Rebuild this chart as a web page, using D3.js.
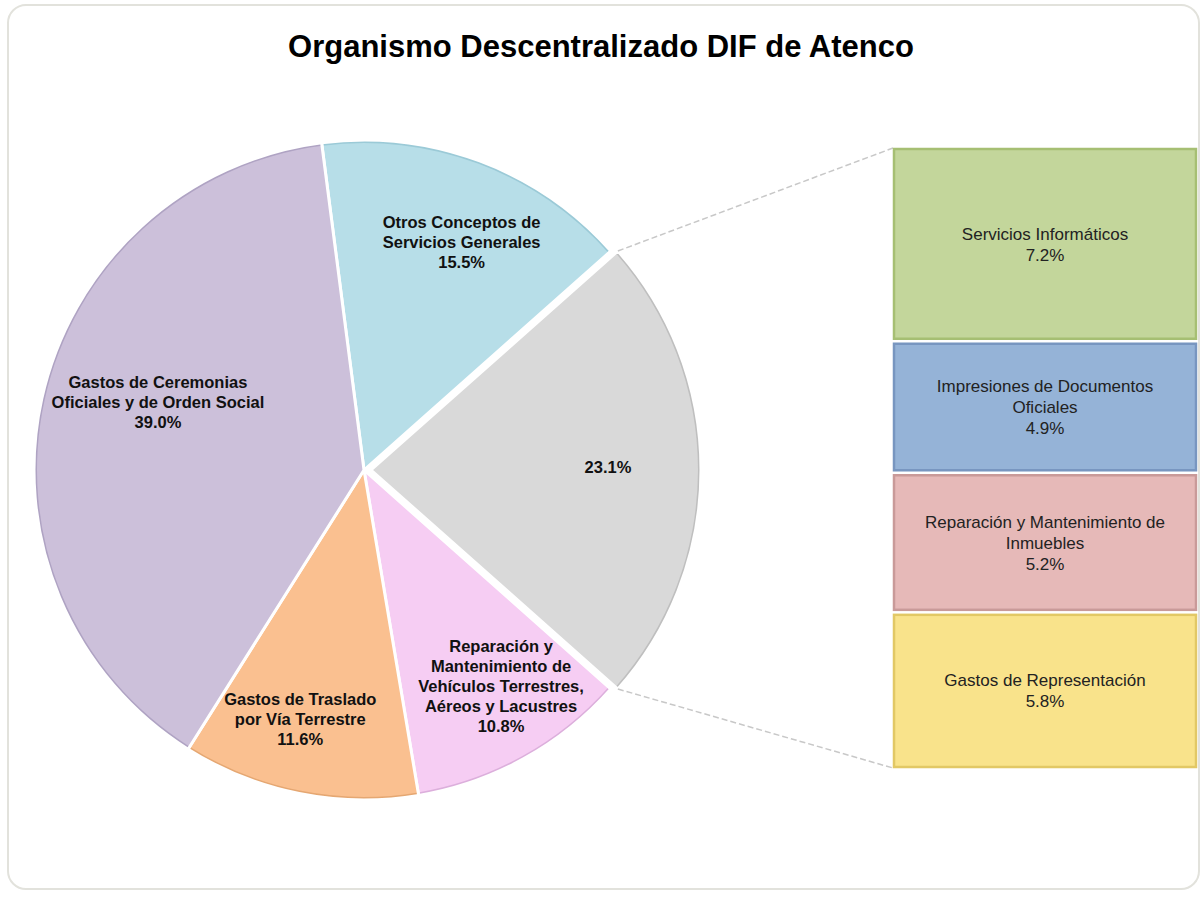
<!DOCTYPE html>
<html><head><meta charset="utf-8">
<script src="https://cdn.jsdelivr.net/npm/d3@7"></script>
<style>
body{margin:0;background:#fff;}
svg{display:block;}
</style></head>
<body>
<svg id="chart" width="1203" height="901"></svg>
<script>
const title = "Organismo Descentralizado DIF de Atenco";
const pieLabels = ["Otros Conceptos de\nServicios Generales", "", "Reparación y\nMantenimiento de\nVehículos Terrestres,\nAéreos y Lacustres", "Gastos de Traslado\npor Vía Terrestre", "Gastos de Ceremonias\nOficiales y de Orden Social"];
const pieValues = [15.5, 23.1, 10.8, 11.6, 39.0];
const pieColors = ["#b7dee8", "#d9d9d9", "#f6cdf3", "#fac090", "#ccc0da"];
const pieEdges = ["#93c4d2", "#b8b8b8", "#d6a8d6", "#e0a06a", "#a89bbd"];
const barLabels = ["Servicios Informáticos", "Impresiones de Documentos\nOficiales", "Reparación y Mantenimiento de\nInmuebles", "Gastos de Representación"];
const barValues = [7.2, 4.9, 5.2, 5.8];
const barColors = ["#c3d69b", "#95b3d7", "#e6b9b8", "#f9e38b"];
const barEdges = ["#a6bf73", "#7896c0", "#c99a99", "#e2c865"];

const svg = d3.select("#chart");
svg.append("rect").attr("x", 8).attr("y", 5).attr("width", 1191).attr("height", 884)
  .attr("rx", 18).attr("fill", "#fff").attr("stroke", "#e2e2dc").attr("stroke-width", 2);

svg.append("text").attr("x", 601).attr("y", 57).attr("text-anchor", "middle")
  .attr("font-family", "Liberation Sans, Arial, sans-serif").attr("font-weight", "bold")
  .attr("font-size", 31).attr("fill", "#000").text(title);

const cx = 364, cy = 470, R = 330;
const total = d3.sum(pieValues);
const start = Math.PI / 2 - (pieValues[0] + pieValues[1] / 2) / total * 2 * Math.PI;
const pie = d3.pie().sort(null).value(d => d).startAngle(start).endAngle(start + 2 * Math.PI);
const arcs = pie(pieValues);
const arc = d3.arc().innerRadius(0).outerRadius(R);
const rimArc = d3.arc().innerRadius(R - 3).outerRadius(R);

const g = svg.append("g").attr("transform", `translate(${cx},${cy})`);
const explode = [0, 7, 0, 0, 0];
const slices = g.selectAll("g.slice").data(arcs).join("g").attr("class", "slice")
  .attr("transform", (d, i) => {
    const m = (d.startAngle + d.endAngle) / 2;
    return `translate(${Math.sin(m) * explode[i]},${-Math.cos(m) * explode[i]})`;
  });
slices.append("path").attr("d", arc).attr("fill", (d, i) => pieColors[i]);
slices.append("path").attr("d", rimArc).attr("fill", (d, i) => pieEdges[i]).attr("opacity", 0.8);
slices.append("path").attr("d", arc).attr("fill", "none").attr("stroke", "#fff").attr("stroke-width", 3).attr("stroke-linejoin", "round");

// bar of pie
const bx = 893, bw = 304, by0 = 148, by1 = 768;
const barTotal = d3.sum(barValues);
const y = d3.scaleLinear().domain([0, barTotal]).range([by0, by1]);
let cum = 0;
const barData = barValues.map((v, i) => { const o = {v, i, a: cum, b: cum + v}; cum += v; return o; });

// connector lines
const gray = arcs[1];
const gOff = [Math.sin((gray.startAngle + gray.endAngle) / 2) * explode[1], -Math.cos((gray.startAngle + gray.endAngle) / 2) * explode[1]];
const p1 = [cx + gOff[0] + Math.sin(gray.startAngle) * R, cy + gOff[1] - Math.cos(gray.startAngle) * R];
const p2 = [cx + gOff[0] + Math.sin(gray.endAngle) * R, cy + gOff[1] - Math.cos(gray.endAngle) * R];
svg.append("line").attr("x1", p1[0]).attr("y1", p1[1]).attr("x2", bx).attr("y2", y(0))
  .attr("stroke", "#c8c8c8").attr("stroke-width", 1.5).attr("stroke-dasharray", "6,3");
svg.append("line").attr("x1", p2[0]).attr("y1", p2[1]).attr("x2", bx).attr("y2", y(barTotal))
  .attr("stroke", "#c8c8c8").attr("stroke-width", 1.5).attr("stroke-dasharray", "6,3");

const bars = svg.append("g");
bars.selectAll("rect").data(barData).join("rect")
  .attr("x", bx + 1).attr("width", bw - 2)
  .attr("y", d => y(d.a) + (d.i === 0 ? 1 : 2.5))
  .attr("height", d => y(d.b) - y(d.a) - (d.i === 0 || d.i === barData.length - 1 ? 3.5 : 5))
  .attr("fill", d => barColors[d.i]).attr("stroke", d => barEdges[d.i]).attr("stroke-width", 2.5);

bars.selectAll("text").data(barData).join("text")
  .attr("text-anchor", "middle").attr("font-family", "Liberation Sans Narrow, Arial Narrow, Liberation Sans, sans-serif")
  .attr("font-size", 17).attr("fill", "#222")
  .each(function(d) {
    const lines = barLabels[d.i].split("\n").concat([d.v.toFixed(1) + "%"]);
    const mid = (y(d.a) + y(d.b)) / 2;
    const lh = 21;
    const t0 = mid - (lines.length - 1) * lh / 2 + 6;
    d3.select(this).selectAll("tspan").data(lines).join("tspan")
      .attr("x", bx + bw / 2).attr("y", (l, k) => t0 + k * lh).text(l => l);
  });

// pie labels
const labelR = [250, 245, 256, 258, 210];
const labelNudge = [[10, 6], [-8, -3], [13, -8], [-13, -4], [-1, -23]];
const lg = svg.append("g").attr("transform", `translate(${cx},${cy})`);
lg.selectAll("text").data(arcs).join("text")
  .attr("text-anchor", "middle").attr("font-family", "Liberation Sans, Arial, sans-serif")
  .attr("font-weight", "bold").attr("font-size", 16.5).attr("fill", "#111")
  .each(function(d, i) {
    const m = (d.startAngle + d.endAngle) / 2;
    const lx = Math.sin(m) * (labelR[i] + explode[i]) + labelNudge[i][0];
    const ly = -Math.cos(m) * labelR[i] + labelNudge[i][1];
    const lines = (pieLabels[i] ? pieLabels[i].split("\n") : []).concat([d.value.toFixed(1) + "%"]);
    const lh = 20;
    const t0 = ly - (lines.length - 1) * lh / 2 + 6;
    d3.select(this).selectAll("tspan").data(lines).join("tspan")
      .attr("x", lx).attr("y", (l, k) => t0 + k * lh).text(l => l);
  });
</script>
</body></html>
